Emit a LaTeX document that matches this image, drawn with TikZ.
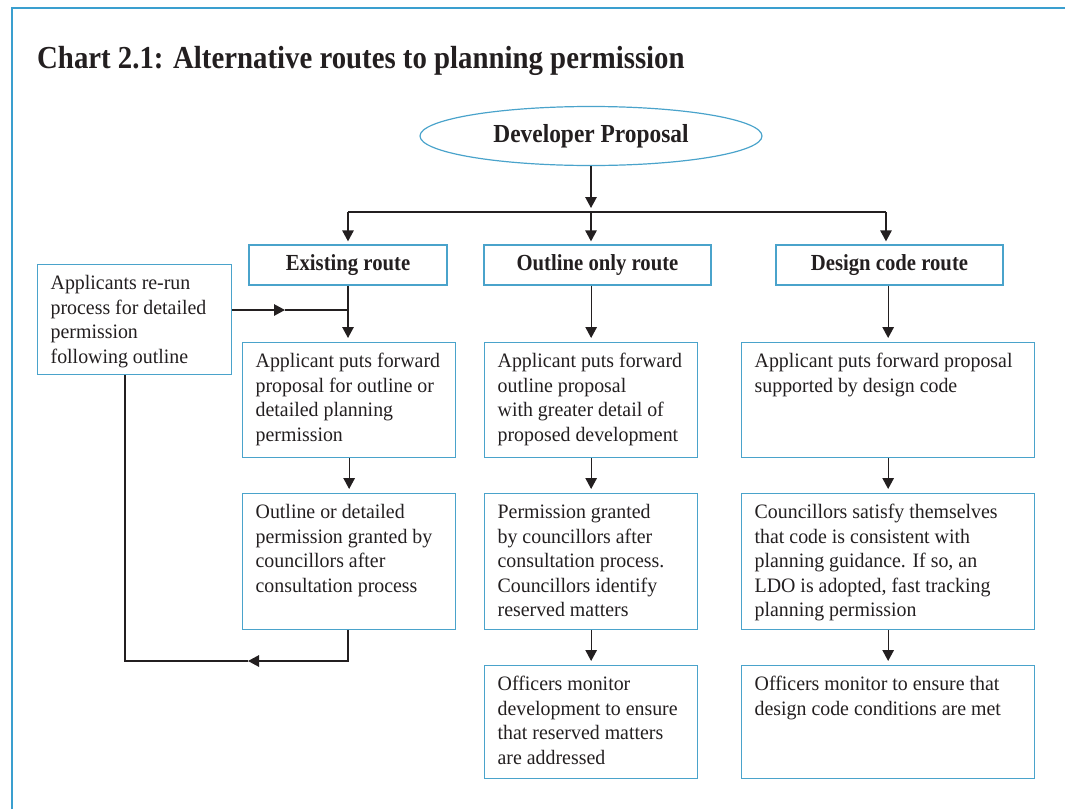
\documentclass[tikz,border=0pt]{standalone}
\usepackage{fontspec}
\setmainfont{Liberation Serif}[FakeStretch=0.97]
\newfontfamily\boldf{Liberation Serif}[FakeStretch=0.9]
\usetikzlibrary{arrows.meta,shapes.geometric,calc}
\definecolor{frameblue}{HTML}{3A9FCF}
\definecolor{boxblue}{HTML}{4AA3CB}
\definecolor{ink}{HTML}{231F20}
\newcommand\bxt[3]{\begin{minipage}[c][#2pt][t]{#1pt}\leftskip=13pt\rightskip=0pt plus 1fil\parindent=0pt\rule{0pt}{25pt}#3\end{minipage}}
\tikzset{
  txtbox/.style={draw=boxblue, line width=1.3pt, anchor=north west, inner sep=0pt, text=ink,
    font=\fontsize{20.5}{24.5}\selectfont},
  routebox/.style={draw=boxblue, line width=1.3pt, inner sep=0pt, minimum height=40pt, text=ink,
    font=\boldf\bfseries\fontsize{23}{27}\selectfont},
  conn/.style={draw=ink, line width=1.3pt},
  arr/.style={conn, -{Triangle[length=11pt,width=11.5pt]}},
}
\begin{document}
\begin{tikzpicture}[x=1pt,y=-1pt]
\useasboundingbox (0,0) rectangle (1065,809);
\draw[frameblue, line width=2pt] (12,809) -- (12,8) -- (1065,8);

\node[anchor=base west, inner sep=0pt, text=ink, font=\boldf\bfseries\fontsize{32}{36}\selectfont] (title) at (37,68)
  {Chart 2.1: Alternative routes to planning permission};

\node[ellipse, draw=boxblue, line width=1.2pt, minimum width=342pt, minimum height=59pt, inner sep=0pt,
  text=ink, font=\boldf\bfseries\fontsize{26}{30}\selectfont] (dp) at (591,136) {Developer Proposal};

\node[routebox, minimum width=198pt] (r1) at (348,265) {Existing route};
\node[routebox, minimum width=227pt] (r2) at (597.5,265) {Outline only route};
\node[routebox, minimum width=227pt] (r3) at (889.5,265) {Design code route};

\node[txtbox] (rerun) at (37,264) {\bxt{194}{110}{Applicants re-run\\process for detailed\\permission\\following outline}};

\node[txtbox] (b1a) at (242,342) {\bxt{213}{115}{Applicant puts forward\\proposal for outline or\\detailed planning\\permission}};
\node[txtbox] (b1b) at (242,493) {\bxt{213}{136}{Outline or detailed\\permission granted by\\councillors after\\consultation process}};

\node[txtbox] (b2a) at (484,342) {\bxt{213}{115}{Applicant puts forward\\outline proposal\\with greater detail of\\proposed development}};
\node[txtbox] (b2b) at (484,493) {\bxt{213}{136}{Permission granted\\by councillors after\\consultation process.\\Councillors identify\\reserved matters}};
\node[txtbox] (b2c) at (484,665) {\bxt{213}{113}{Officers monitor\\development to ensure\\that reserved matters\\are addressed}};

\node[txtbox] (b3a) at (741,342) {\bxt{293}{115}{Applicant puts forward proposal\\supported by design code}};
\node[txtbox] (b3b) at (741,493) {\bxt{293}{136}{Councillors satisfy themselves\\that code is consistent with\\planning guidance. If so, an\\LDO is adopted, fast tracking\\planning permission}};
\node[txtbox] (b3c) at (741,665) {\bxt{293}{113}{Officers monitor to ensure that\\design code conditions are met}};

% connectors
\coordinate (hub) at (591,212);
\coordinate (hl) at (348,212);
\coordinate (hr) at (886,212);
\draw[arr, shorten >=4pt] (dp.south) -- (hub);
\draw[conn] (hl) -- (hr);
\draw[arr, shorten >=3pt] (hl) -- (hl |- r1.north);
\draw[arr, shorten >=3pt] (hub) -- (hub |- r2.north);
\draw[arr, shorten >=3pt] (hr) -- (hr |- r3.north);

\draw[arr, shorten >=4pt] (r1.south) -- (r1.south |- b1a.north);
\draw[arr, shorten >=4pt] (b2a.north |- r2.south) -- (b2a.north);
\draw[arr, shorten >=4pt] (b3a.north |- r3.south) -- (b3a.north);

\draw[arr, shorten >=4pt] (b1a.south) -- (b1b.north);
\draw[arr, shorten >=4pt] (b2a.south) -- (b2b.north);
\draw[arr, shorten >=4pt] (b2b.south) -- (b2c.north);
\draw[arr, shorten >=4pt] (b3a.south) -- (b3b.north);
\draw[arr, shorten >=4pt] (b3b.south) -- (b3c.north);

% re-run loop
\coordinate (rrs) at (rerun.east |- 0,310);
\coordinate (rrm) at (285,310);
\coordinate (jn) at (348,310);
\draw[arr] (rrs) -- (rrm);
\draw[conn] (rrm) -- (jn);

\coordinate (lp1) at (348,661);
\coordinate (lpm) at (248,661);
\coordinate (lp2) at (125,661);
\draw[arr] (lp1 |- b1b.south) -- (lp1) -- (lpm);
\draw[conn] (lpm) -- (lp2) -- (lp2 |- rerun.south);
\end{tikzpicture}
\end{document}
